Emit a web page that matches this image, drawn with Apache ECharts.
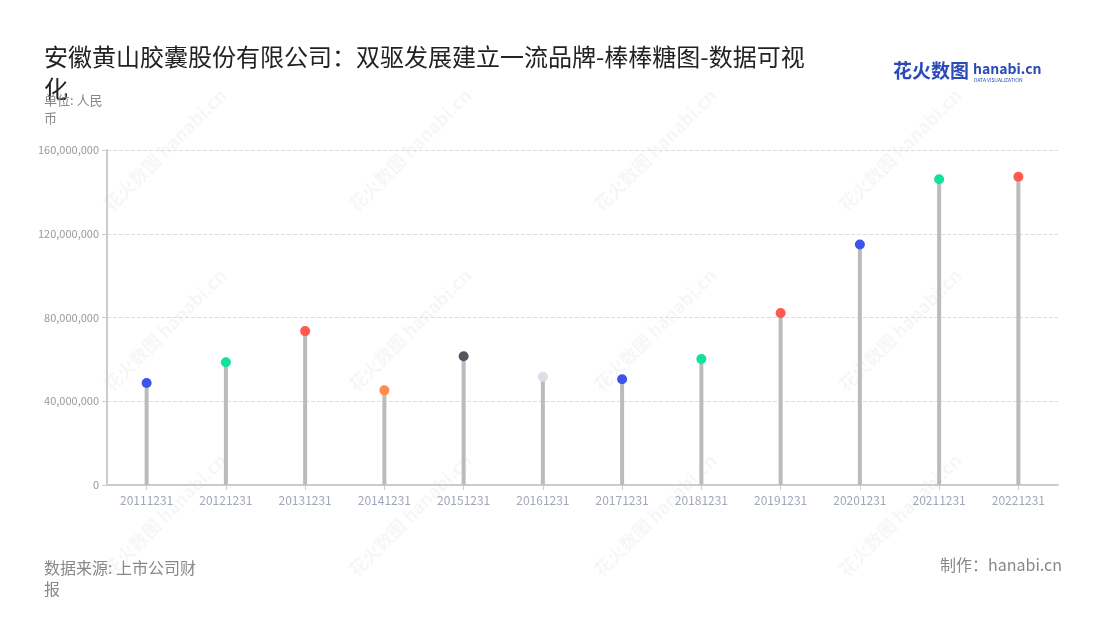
<!DOCTYPE html>
<html>
<head>
<meta charset="utf-8">
<script src="https://cdn.jsdelivr.net/npm/echarts@6/dist/echarts.min.js"></script>
<style>html,body{margin:0;padding:0;background:#fff}#c{width:1100px;height:620px}</style>
</head>
<body>
<div id="c"></div>
<script>
const categories = ['20111231','20121231','20131231','20141231','20151231','20161231','20171231','20181231','20191231','20201231','20211231','20221231'];
const values = [48700000, 58600000, 73500000, 45200000, 61500000, 51700000, 50500000, 60200000, 82100000, 114900000, 146000000, 147200000];
const dotColors = ['#3a55e8','#10e0a0','#ff5a4f','#ff8c4f','#55555f','#dcdfe8','#3a55e8','#10e0a0','#ff5a4f','#3a55e8','#10e0a0','#ff5a4f'];
const yTicks = [0, 40000000, 80000000, 120000000, 160000000];

const FONT = '"Noto Sans CJK SC", "Noto Sans", sans-serif';
const chart = echarts.init(document.getElementById('c'));

const watermarks = [];
const wmPos = [[165,150],[410,150],[655,150],[900,150],[165,330],[410,330],[655,330],[900,330],[165,515],[410,515],[655,515],[900,515]];
wmPos.forEach(p => {
  watermarks.push({
    type: 'text', x: p[0], y: p[1], rotation: Math.PI / 4, z: 0, silent: true,
    style: { text: '花火数图 hanabi.cn', fill: 'rgba(0,0,0,0.035)', font: 'bold 18px ' + FONT, align: 'center', verticalAlign: 'middle' }
  });
});

chart.setOption({
  backgroundColor: '#fff',
  animation: false,
  textStyle: { fontFamily: FONT },
  title: [
    { text: '安徽黄山胶囊股份有限公司：双驱发展建立一流品牌-棒棒糖图-数据可视化', left: 39, top: 36,
      textStyle: { fontSize: 24, fontWeight: 'normal', color: '#222', width: 775, overflow: 'break', lineHeight: 32, fontFamily: FONT } },
    { text: '单位: 人民币', left: 39, top: 86,
      textStyle: { fontSize: 13, fontWeight: 'normal', color: '#888', width: 70, overflow: 'break', lineHeight: 18, fontFamily: FONT } },
    { text: '数据来源: 上市公司财报', left: 39, top: 552,
      textStyle: { fontSize: 16, fontWeight: 'normal', color: '#888', width: 168, overflow: 'break', lineHeight: 21, fontFamily: FONT } },
    { text: '制作：hanabi.cn', right: 33, top: 552,
      textStyle: { fontSize: 16, fontWeight: 'normal', color: '#888', fontFamily: FONT } }
  ],
  graphic: watermarks.concat([
    { type: 'text', x: 893, y: 61, z: 10, style: { text: '花火数图', fill: '#2a4bb8', font: 'bold 19px ' + FONT } },
    { type: 'text', x: 973, y: 62, z: 10, style: { text: 'hanabi.cn', fill: '#2a4bb8', font: 'bold 14px ' + FONT } },
    { type: 'text', x: 974, y: 78, z: 10, style: { text: 'DATA VISUALIZATION', fill: '#2a4bb8', font: '5px ' + FONT } }
  ]),
  grid: { left: 107, right: 42, top: 150, bottom: 135, containLabel: false },
  xAxis: {
    type: 'category', data: categories,
    axisLine: { lineStyle: { color: '#ccc', width: 2 } },
    axisTick: { show: true, alignWithLabel: true, lineStyle: { color: '#ccc' } },
    axisLabel: { color: '#a0a7b8', fontSize: 12, margin: 9, interval: 0 }
  },
  yAxis: {
    type: 'value', min: 0, max: 160000000, interval: 40000000,
    axisLine: { show: true, lineStyle: { color: '#ccc', width: 2 } },
    axisTick: { show: true, lineStyle: { color: '#ccc' } },
    splitLine: { lineStyle: { color: '#ddd', type: 'dashed' } },
    axisLabel: { color: '#999', fontSize: 11, formatter: v => v.toLocaleString('en-US') }
  },
  series: [
    { type: 'bar', data: values, barWidth: 4, itemStyle: { color: '#bbbbbb' }, z: 2 },
    { type: 'scatter', data: values.map((v, i) => ({ value: v, itemStyle: { color: dotColors[i], opacity: 1 } })), symbolSize: 10, z: 3 }
  ]
});
</script>
</body>
</html>
